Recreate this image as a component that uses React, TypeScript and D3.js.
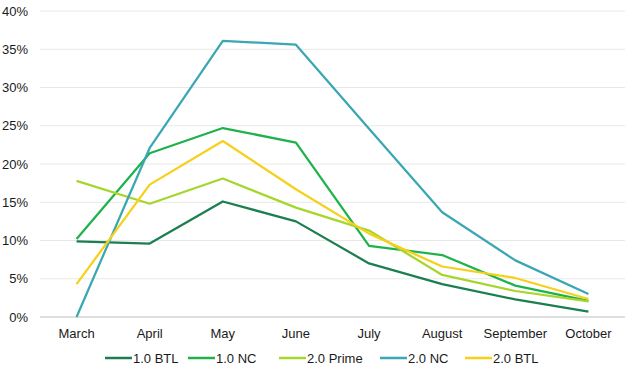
import React from 'react'
import * as d3 from 'd3'

const months = ['March', 'April', 'May', 'June', 'July', 'August', 'September', 'October']
const btl10 = [9.9, 9.6, 15.1, 12.5, 7.0, 4.3, 2.3, 0.7]
const nc10 = [10.2, 21.4, 24.7, 22.8, 9.3, 8.1, 4.1, 2.1]
const prime20 = [17.8, 14.8, 18.1, 14.3, 11.3, 5.5, 3.4, 2.05]
const nc20 = [0, 22.1, 36.1, 35.6, 24.6, 13.7, 7.4, 3.0]
const btl20 = [4.3, 17.3, 23.0, 16.7, 10.9, 6.6, 5.1, 2.35]
const yTicks = [0, 5, 10, 15, 20, 25, 30, 35, 40]

const series = [
  { name: '1.0 BTL', values: btl10, color: '#1b7f50' },
  { name: '1.0 NC', values: nc10, color: '#1fb24c' },
  { name: '2.0 Prime', values: prime20, color: '#a6d62c' },
  { name: '2.0 NC', values: nc20, color: '#3aa7b2' },
  { name: '2.0 BTL', values: btl20, color: '#f6d01a' },
]

const width = 637
const height = 370
const margin = { top: 11, right: 12, bottom: 53, left: 40 }

export default function App() {
  const x = d3
    .scaleBand()
    .domain(months)
    .range([margin.left, width - margin.right])
  const y = d3
    .scaleLinear()
    .domain([0, 40])
    .range([height - margin.bottom, margin.top])

  const line = d3
    .line<number>()
    .x((_, i) => (x(months[i]) as number) + x.bandwidth() / 2)
    .y((d) => y(d))

  // legend layout: line sample then label
  const legendX = [105, 188, 279, 380, 465]

  return (
    <div style={{ position: 'absolute', left: 0, top: 0 }}>
      <svg width={width} height={height} style={{ display: 'block', fontFamily: '"Liberation Sans", Arial, sans-serif' }}>
        {yTicks.map((t) => (
          <g key={t}>
            <line
              x1={margin.left}
              x2={width - margin.right}
              y1={y(t)}
              y2={y(t)}
              stroke={t === 0 ? '#bfbfbf' : '#e8e8e8'}
              strokeWidth={1}
            />
            <text x={28} y={y(t)} dy="0.35em" textAnchor="end" fontSize={13} fill="#1a1a1a">
              {t}%
            </text>
          </g>
        ))}
        {months.map((m) => (
          <text
            key={m}
            x={(x(m) as number) + x.bandwidth() / 2}
            y={337.5}
            textAnchor="middle"
            fontSize={13}
            fill="#1a1a1a"
          >
            {m}
          </text>
        ))}
        {series.map((s) => (
          <path key={s.name} d={line(s.values) || ''} fill="none" stroke={s.color} strokeWidth={2.25} strokeLinejoin="round" />
        ))}
        {series.map((s, i) => (
          <g key={s.name} transform={`translate(${legendX[i]}, 358)`}>
            <line x1={0} x2={27} y1={0} y2={0} stroke={s.color} strokeWidth={2.5} />
            <text x={28} y={0} dy="0.35em" fontSize={13} fill="#1a1a1a">
              {s.name}
            </text>
          </g>
        ))}
      </svg>
    </div>
  )
}
